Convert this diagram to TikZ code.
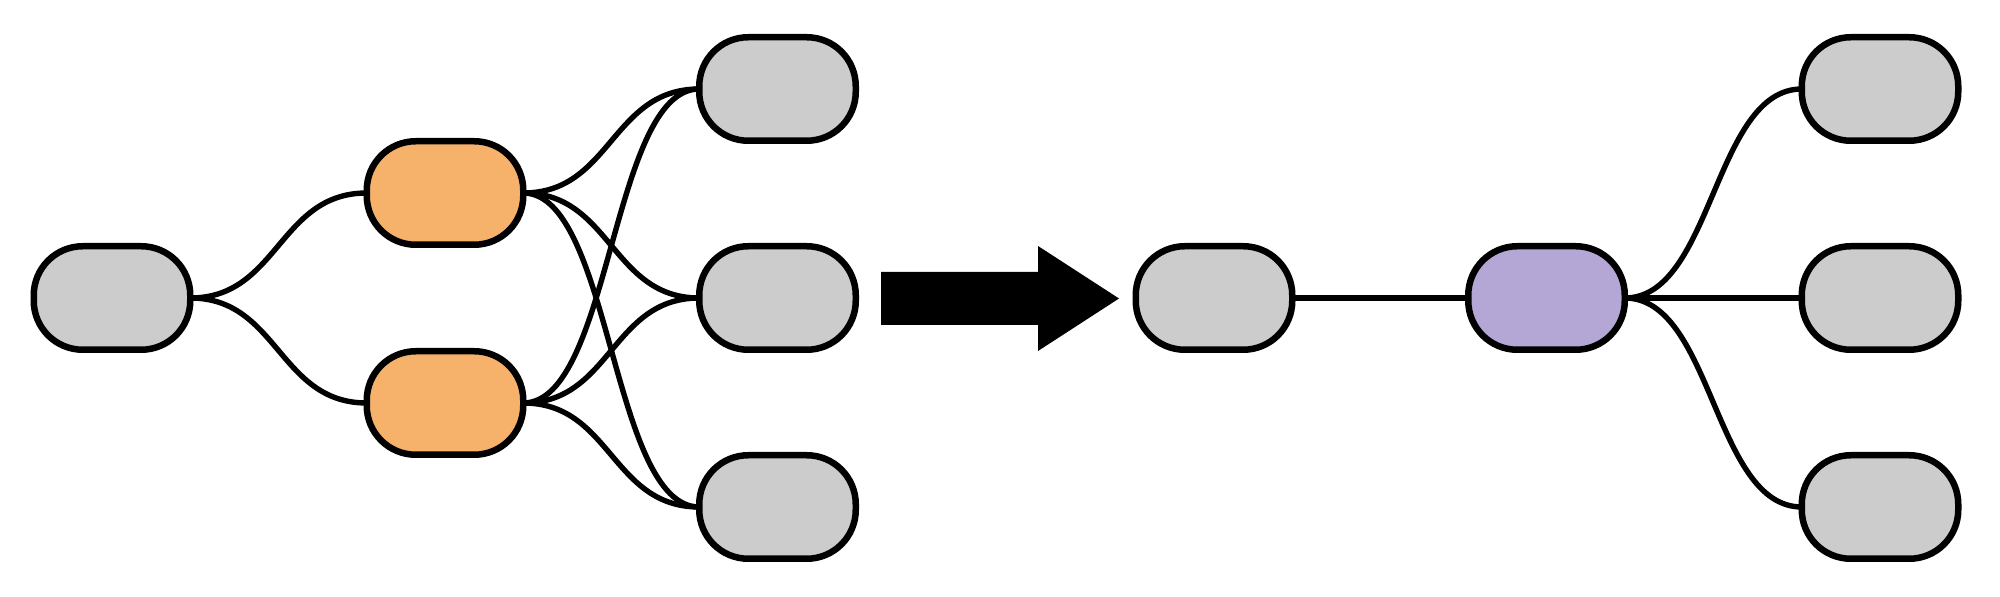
\documentclass[tikz,border=0pt]{standalone}
\definecolor{nodegray}{HTML}{CCCCCC}
\definecolor{nodeorange}{HTML}{F6B26B}
\definecolor{nodepurple}{HTML}{B4A7D6}
\begin{document}
\begin{tikzpicture}[x=0.5pt,y=-0.5pt,
  pill/.style={draw=black, line width=3.25pt, rounded corners=24.5pt,
    minimum width=78.25pt, minimum height=51.75pt, inner sep=0pt, outer sep=0pt},
  graypill/.style={pill, fill=nodegray},
  orangepill/.style={pill, fill=nodeorange},
  purplepill/.style={pill, fill=nodepurple},
  link/.style={draw=black, line width=2.7pt}]
\useasboundingbox (0,0) rectangle (2000,597);
% left graph
\node[graypill] (L) at (112,298) {};
\node[orangepill] (O1) at (445,193) {};
\node[orangepill] (O2) at (445,403) {};
\node[graypill] (R1) at (777.5,89) {};
\node[graypill] (R2) at (777.5,298) {};
\node[graypill] (R3) at (777.5,507) {};
\foreach \o in {O1,O2}{
  \draw[link] (L.east) .. controls +(88,0) and +(-88,0) .. (\o.west);
  \foreach \r in {R1,R2,R3}{
    \draw[link] (\o.east) .. controls +(88,0) and +(-88,0) .. (\r.west);
  }
}
% big arrow
\fill[black] (881,272) -- (1038,272) -- (1038,246) -- (1119,298.5) -- (1038,351) -- (1038,325) -- (881,325) -- cycle;
% right graph
\node[graypill] (G) at (1214,298) {};
\node[purplepill] (P) at (1546.5,298) {};
\node[graypill] (F1) at (1880,89) {};
\node[graypill] (F2) at (1880,298) {};
\node[graypill] (F3) at (1880,507) {};
\draw[link] (G.east) -- (P.west);
\draw[link] (P.east) -- (F2.west);
\foreach \f in {F1,F3}{
  \draw[link] (P.east) .. controls +(88,0) and +(-88,0) .. (\f.west);
}
\end{tikzpicture}
\end{document}
